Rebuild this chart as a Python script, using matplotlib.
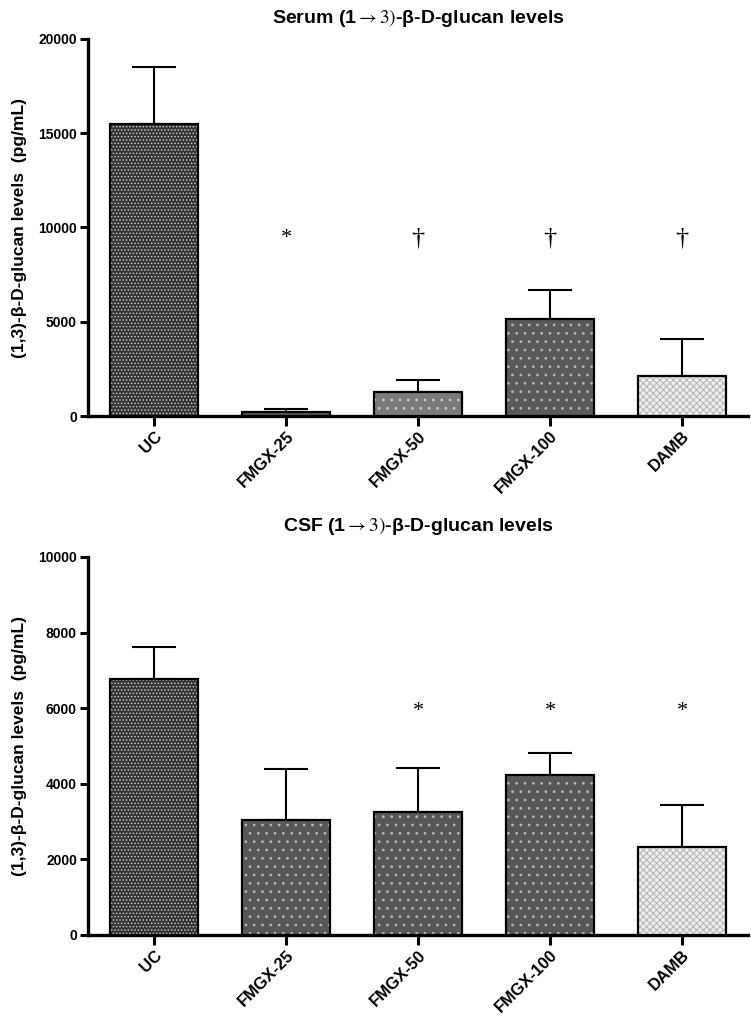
#!/usr/bin/env python3
"""Two-panel bar chart of (1->3)-beta-D-glucan levels in serum and CSF."""

import matplotlib
matplotlib.use("Agg")
import matplotlib.pyplot as plt
import numpy as np

plt.rcParams['font.family'] = ['Liberation Sans', 'DejaVu Sans']
plt.rcParams['mathtext.fontset'] = 'stix'
plt.rcParams['hatch.linewidth'] = 0.7

GROUPS = ["UC", "FMGX-25", "FMGX-50", "FMGX-100", "DAMB"]

# serum panel (pg/mL), mean and SD
serum_mean = [15500, 230, 1250, 5150, 2100]
serum_sd = [3030, 120, 660, 1560, 2000]
serum_marks = ["", "*", "†", "†", "†"]
serum_mark_y = 9400

# CSF panel (pg/mL), mean and SD
csf_mean = [6760, 3030, 3250, 4230, 2320]
csf_sd = [860, 1370, 1175, 590, 1130]
csf_marks = ["", "", "*", "*", "*"]
csf_mark_y = 5900

YLABEL = "(1,3)-β-D-glucan levels  (pg/mL)"
ARROW = r"$\rightarrow\mathrm{3)}$"

# fill styles per bar (face, hatch, hatch colour)
SERUM_STYLE = [("#333333", ".....", "#c8c8c8"),
               ("#555555", "..", "#b0b0b0"),
               ("#7a7a7a", "..", "#d0d0d0"),
               ("#5a5a5a", "..", "#bcbcbc"),
               ("#eeeeee", "xxxxx", "#b4b4b4")]
CSF_STYLE = [("#333333", ".....", "#c8c8c8"),
             ("#575757", "..", "#bcbcbc"),
             ("#575757", "..", "#bcbcbc"),
             ("#575757", "..", "#bcbcbc"),
             ("#eeeeee", "xxxxx", "#b4b4b4")]


def draw_panel(ax, means, sds, styles, marks, mark_y, ymax, ystep):
    x = np.arange(len(GROUPS))
    width = 0.66
    # error bars first (upper only), bars drawn over them
    ax.errorbar(x, means, yerr=[np.zeros(len(sds)), sds], fmt="none",
                ecolor="black", elinewidth=1.5, capsize=16, capthick=1.5,
                zorder=2)
    for xi, m, (face, hatch, hcol) in zip(x, means, styles):
        ax.bar(xi, m, width, color=face, hatch=hatch, edgecolor=hcol,
               linewidth=0, zorder=3)
        ax.bar(xi, m, width, fill=False, edgecolor="black", linewidth=1.6,
               zorder=4)
    for xi, mk in zip(x, marks):
        if mk == "†":
            ax.text(xi, mark_y, mk, ha="center", va="center", fontsize=19,
                    family="Liberation Serif")
        elif mk:
            ax.text(xi, mark_y, mk, ha="center", va="center", fontsize=16,
                    family="Liberation Serif")

    ax.set_xlim(-0.5, len(GROUPS) - 0.5)
    ax.set_ylim(0, ymax)
    ax.set_yticks(np.arange(0, ymax + 1, ystep))
    ax.set_xticks(x)
    ax.set_xticklabels(GROUPS, rotation=45, ha="right", va="top",
                       rotation_mode="anchor", fontsize=12,
                       fontweight="bold")
    for lab in ax.get_yticklabels():
        lab.set_fontweight("bold")
        lab.set_fontsize(10)
    ax.set_ylabel(YLABEL, fontsize=12.5, fontweight="bold", labelpad=8)

    for side in ("top", "right"):
        ax.spines[side].set_visible(False)
    for side in ("left", "bottom"):
        ax.spines[side].set_linewidth(2.4)
    ax.tick_params(axis="y", length=6, width=2.2, pad=2)
    ax.tick_params(axis="x", length=7, width=2.2, pad=2)


def main():
    fig = plt.figure(figsize=(7.51, 10.19), dpi=100)
    left, width = 88 / 751, 660 / 751
    ax1 = fig.add_axes([left, 1 - 416 / 1019, width, 377 / 1019])
    ax2 = fig.add_axes([left, 1 - 935 / 1019, width, 378 / 1019])

    draw_panel(ax1, serum_mean, serum_sd, SERUM_STYLE, serum_marks,
               serum_mark_y, 20000, 5000)
    draw_panel(ax2, csf_mean, csf_sd, CSF_STYLE, csf_marks,
               csf_mark_y, 10000, 2000)

    cx = left + width / 2
    fig.text(cx, 1 - 18 / 1019, "Serum (1" + ARROW + "-β-D-glucan levels",
             ha="center", va="center", fontsize=14, fontweight="bold")
    fig.text(cx, 1 - 526 / 1019, "CSF (1" + ARROW + "-β-D-glucan levels",
             ha="center", va="center", fontsize=14, fontweight="bold")

    fig.savefig("out.png", dpi=100)


if __name__ == "__main__":
    main()
